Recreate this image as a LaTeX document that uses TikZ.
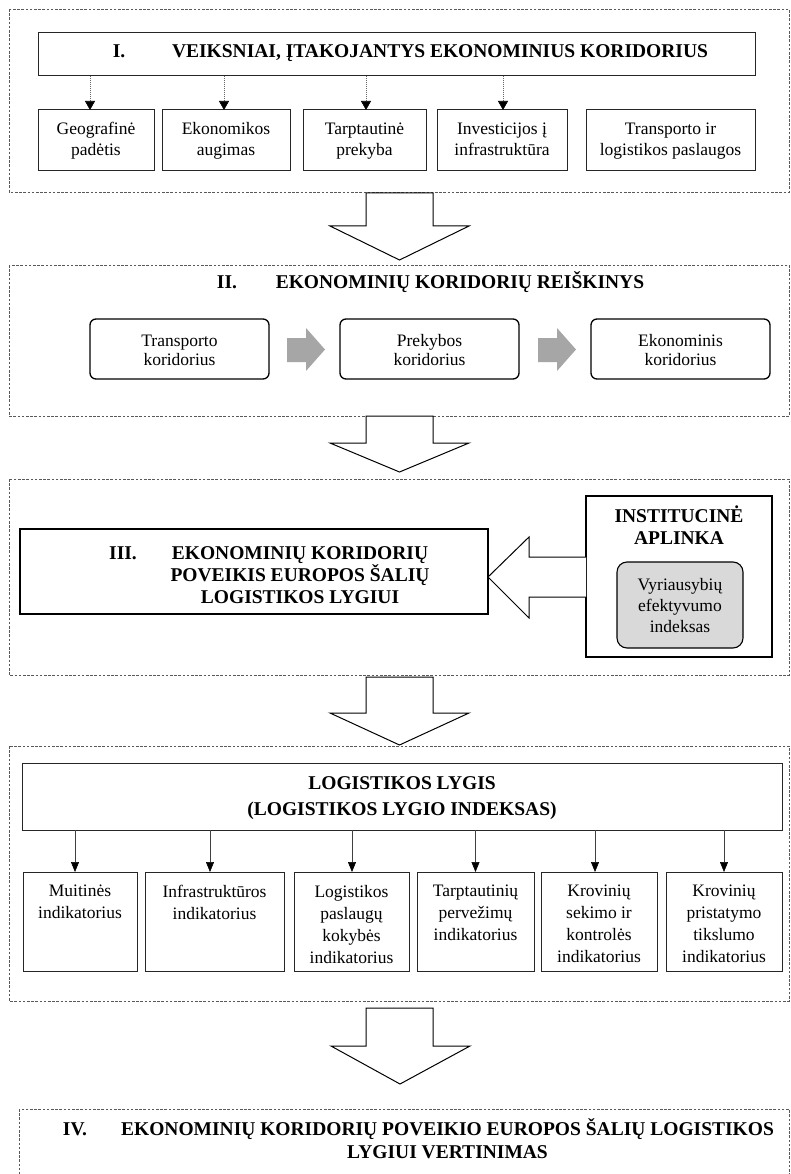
\documentclass[tikz,border=0pt]{standalone}
\usepackage{fontspec}
\setmainfont{Liberation Serif}
\usetikzlibrary{arrows.meta}
\begin{document}
\begin{tikzpicture}[x=1pt,y=-1pt,
  every node/.style={inner sep=0pt,outer sep=0pt},
  nt/.style={font=\fontsize{17.5}{21}\selectfont,align=center},
  ntb/.style={font=\fontsize{17.5}{19}\selectfont,align=center},
  ntc/.style={font=\fontsize{17.5}{22}\selectfont,align=center},
  bt/.style={font=\fontsize{19.5}{22}\selectfont\bfseries,align=center},
  sect/.style={draw=black!65,line width=0.7pt,dash pattern=on 2.6pt off 1.6pt},
  plainbox/.style={draw=black!85,line width=1pt},
  thickbox/.style={draw=black,line width=1.3pt},
  rbox/.style={draw=black,line width=1.3pt,rounded corners=6pt},
  fbox/.style={plainbox,nt,minimum height=61,text height=33,text depth=2},
  cbox/.style={rbox,ntb,minimum width=179,minimum height=60,text height=32,text depth=0},
  dotarr/.style={draw=black!60,line width=0.6pt,dash pattern=on 1pt off 1pt,
     -{Triangle[length=9pt,width=10pt,color=black]}},
  solarr/.style={draw=black!75,line width=0.6pt,
     -{Triangle[length=10pt,width=8pt,color=black]}},
  blockarr/.style={draw=black,line width=1pt,fill=white,line join=miter},
  grayarr/.style={fill=black!35,draw=none}
]
\fill[white] (0,0) rectangle (791,1174);
\useasboundingbox (0,0) rectangle (791,1174);

% ---------- Section I ----------
\draw[sect] (9,9) rectangle (789,192);
\node[plainbox,minimum width=717,minimum height=43] (t1) at (396.5,54.5) {};
\node[bt,anchor=base] (t1n) at (119,58) {I.};
\node[bt,anchor=base] (t1t) at (440,58) {VEIKSNIAI, ĮTAKOJANTYS EKONOMINIUS KORIDORIUS};

\node[fbox,minimum width=116] (f1) at (96,140.5) {Geografinė\\padėtis};
\node[fbox,minimum width=128] (f2) at (226,140.5) {Ekonomikos\\augimas};
\node[fbox,minimum width=123] (f3) at (364.5,140.5) {Tarptautinė\\prekyba};
\node[fbox,minimum width=130] (f4) at (502,140.5) {Investicijos į\\infrastruktūra};
\node[fbox,minimum width=169] (f5) at (670.5,140.5) {Transporto ir\\logistikos paslaugos};

\draw[dotarr] ([xshift=-6pt]f1.north |- t1.south) -- ([xshift=-6pt]f1.north);
\draw[dotarr] ([xshift=-2pt]f2.north |- t1.south) -- ([xshift=-2pt]f2.north);
\draw[dotarr] ([xshift=1.5pt]f3.north |- t1.south) -- ([xshift=1.5pt]f3.north);
\draw[dotarr] ([xshift=1pt]f4.north |- t1.south) -- ([xshift=1pt]f4.north);

% block arrow 1
\draw[blockarr] (366,193) -- (366,226) -- (330,226) -- (399.5,260) -- (469,226) -- (433,226) -- (433,193) -- cycle;

% ---------- Section II ----------
\draw[sect] (9,265) rectangle (789,416);
\node[bt,anchor=base] (t2n) at (227,288) {II.};
\node[bt,anchor=base] (t2t) at (460,288) {EKONOMINIŲ KORIDORIŲ REIŠKINYS};

\node[cbox] (c1) at (179.5,349) {Transporto\\koridorius};
\node[cbox] (c2) at (429.5,349) {Prekybos\\koridorius};
\node[cbox] (c3) at (680.5,349) {Ekonominis\\koridorius};

\fill[grayarr] (287,338) -- (306,338) -- (306,328) -- (325,349.5) -- (306,371) -- (306,362) -- (287,362) -- cycle;
\fill[grayarr] (538,338) -- (557,338) -- (557,328) -- (576,349.5) -- (557,371) -- (557,362) -- (538,362) -- cycle;

% block arrow 2
\draw[blockarr] (366,416) -- (366,443) -- (330,443) -- (399.5,472) -- (469,443) -- (433,443) -- (433,416) -- cycle;

% ---------- Section III ----------
\draw[sect] (9,479) rectangle (789,675);
\node[thickbox,minimum width=468,minimum height=85] (b3) at (254,571.5) {};
\node[bt,anchor=base] (t3n) at (123,559.5) {III.};
\node[bt,anchor=base] (t3t) at (300,603.5) {EKONOMINIŲ KORIDORIŲ\\POVEIKIS EUROPOS ŠALIŲ\\LOGISTIKOS LYGIUI};

\node[thickbox,minimum width=186,minimum height=161] (ia) at (679,576.5) {};
\node[bt,anchor=base] (iat) at (679,544) {INSTITUCINĖ\\APLINKA};
\node[draw=black,line width=1.1pt,rounded corners=10pt,fill=black!15,nt,minimum width=126,minimum height=86,text height=54,text depth=0] (vg) at (680,605) {Vyriausybių\\efektyvumo\\indeksas};

\draw[blockarr] (ia.west |- 0,557) -- (529,557) -- (529,537) -- (b3.east |- 0,577) -- (529,618) -- (529,597) -- (ia.west |- 0,597);

% block arrow 3
\draw[blockarr] (366,677) -- (366,713) -- (330,713) -- (399.5,745) -- (469,713) -- (433,713) -- (433,677) -- cycle;

% ---------- Section LOG ----------
\draw[sect] (9,746) rectangle (789,1001);
\node[plainbox,minimum width=760,minimum height=67] (lg) at (402,796.5) {};
\node[bt,font=\fontsize{19.5}{26}\selectfont\bfseries,anchor=base] (lgt) at (402,815.5) {LOGISTIKOS LYGIS\\(LOGISTIKOS LYGIO INDEKSAS)};

\node[plainbox,minimum width=114,minimum height=99] (i1) at (80,921.5) {};
\node[plainbox,minimum width=139,minimum height=99] (i2) at (214.5,921.5) {};
\node[plainbox,minimum width=115,minimum height=99] (i3) at (351.5,921.5) {};
\node[plainbox,minimum width=117,minimum height=99] (i4) at (475.5,921.5) {};
\node[plainbox,minimum width=116,minimum height=99] (i5) at (599,921.5) {};
\node[plainbox,minimum width=116,minimum height=99] (i6) at (724,921.5) {};

\node[ntc,anchor=north] (i1t) at (80,885) {Muitinės\\indikatorius};
\node[ntc,anchor=north] (i2t) at (214.5,885) {Infrastruktūros\\indikatorius};
\node[ntc,anchor=north] (i3t) at (351.5,885) {Logistikos\\paslaugų\\kokybės\\indikatorius};
\node[ntc,anchor=north] (i4t) at (475.5,885) {Tarptautinių\\pervežimų\\indikatorius};
\node[ntc,anchor=north] (i5t) at (599,885) {Krovinių\\sekimo ir\\kontrolės\\indikatorius};
\node[ntc,anchor=north] (i6t) at (724,885) {Krovinių\\pristatymo\\tikslumo\\indikatorius};

\draw[solarr] ([xshift=-5pt]i1.north |- lg.south) -- ([xshift=-5pt]i1.north);
\draw[solarr] ([xshift=-4.5pt]i2.north |- lg.south) -- ([xshift=-4.5pt]i2.north);
\draw[solarr] ([xshift=0.5pt]i3.north |- lg.south) -- ([xshift=0.5pt]i3.north);
\draw[solarr] (i4.north |- lg.south) -- (i4.north);
\draw[solarr] ([xshift=-4pt]i5.north |- lg.south) -- ([xshift=-4pt]i5.north);
\draw[solarr] (i6.north |- lg.south) -- (i6.north);

% block arrow 4
\draw[blockarr] (366,1008) -- (366,1046) -- (331,1046) -- (400,1084) -- (470,1046) -- (433,1046) -- (433,1008) -- cycle;

% ---------- Section IV ----------
\draw[sect] (19,1109) rectangle (789,1190);
\node[bt,anchor=base] (t4n) at (75,1135) {IV.};
\node[bt,font=\fontsize{19.5}{23}\selectfont\bfseries,anchor=base] (t4t) at (447.5,1158) {EKONOMINIŲ KORIDORIŲ POVEIKIO EUROPOS ŠALIŲ LOGISTIKOS\\LYGIUI VERTINIMAS};
\end{tikzpicture}
\end{document}
